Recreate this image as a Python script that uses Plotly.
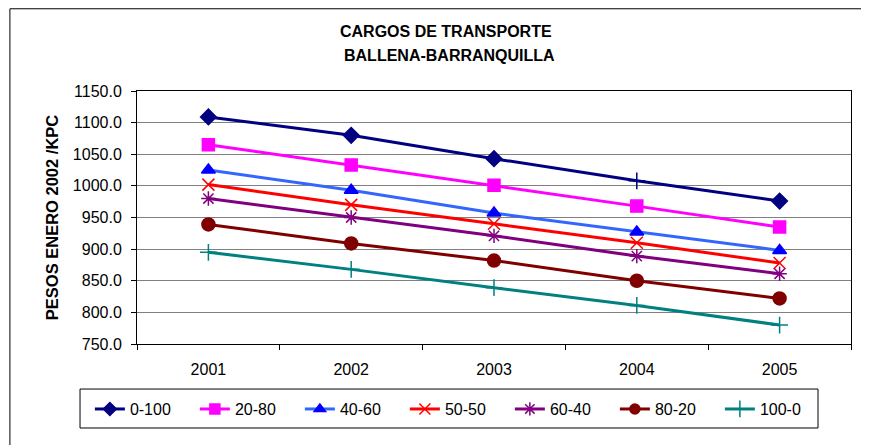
import plotly.graph_objects as go

years = ["2001", "2002", "2003", "2004", "2005"]
s_0_100 = [1109, 1080, 1043, 1008, 976]
s_20_80 = [1065, 1033, 1001, 968, 935]
s_40_60 = [1025, 993, 957, 927, 898]
s_50_50 = [1002, 970, 940, 910, 878]
s_60_40 = [980, 950, 921, 889, 861]
s_80_20 = [939, 909, 882, 850, 822]
s_100_0 = [895, 868, 839, 811, 780]
names = ["0-100", "20-80", "40-60", "50-50", "60-40", "80-20", "100-0"]
y_ticks = [750, 800, 850, 900, 950, 1000, 1050, 1100, 1150]
title_lines = ["CARGOS DE TRANSPORTE", "BALLENA-BARRANQUILLA"]

series = [s_0_100, s_20_80, s_40_60, s_50_50, s_60_40, s_80_20, s_100_0]
line_colors = ["#000080", "#FF00FF", "#3366FF", "#FF0000", "#800080", "#800000", "#008080"]
marker_colors = ["#000080", "#FF00FF", "#0000FF", "#FF0000", "#800080", "#800000", "#008080"]
symbols = [
    ["diamond", "diamond", "diamond", "cross-thin", "diamond"],
    "square", "triangle-up", "x-thin", "asterisk-open", "circle", "cross-thin",
]
legend_symbols = ["diamond", "square", "triangle-up", "x-thin", "asterisk-open", "circle", "cross-thin"]
sizes = [12, 12, 12, 12, 12, 13, 12]
legend_sizes = [10, 10, 10, 11, 11, 10, 12]

FONT = "Arial, Liberation Sans, sans-serif"

fig = go.Figure()
for name, vals, lc, mc, sym, sz in zip(names, series, line_colors, marker_colors, symbols, sizes):
    fig.add_trace(go.Scatter(
        x=years, y=vals, name=name, mode="lines+markers", showlegend=False,
        line=dict(color=lc, width=3),
        marker=dict(symbol=sym, size=sz, color=mc, line=dict(color=mc, width=1.5)),
    ))
# legend entries (smaller markers, as in the original legend)
for name, lc, mc, sym, sz in zip(names, line_colors, marker_colors, legend_symbols, legend_sizes):
    fig.add_trace(go.Scatter(
        x=[None], y=[None], name=name, mode="lines+markers", showlegend=True,
        line=dict(color=lc, width=3),
        marker=dict(symbol=sym, size=sz, color=mc, line=dict(color=mc, width=1.5)),
    ))

fig.update_layout(
    width=861, height=437,
    margin=dict(l=129, r=18, t=83, b=101, autoexpand=False),
    paper_bgcolor="white", plot_bgcolor="white",
    font=dict(family=FONT, size=16, color="black"),
    showlegend=True,
    legend=dict(
        orientation="h", x=-0.066, xanchor="left", y=-0.19, yanchor="top",
        borderwidth=0, bgcolor="rgba(0,0,0,0)",
        entrywidth=60, entrywidthmode="pixels", itemwidth=30,
        font=dict(size=16),
    ),
    xaxis=dict(
        type="category", range=[-0.5, 4.5], tickson="boundaries", ticks="outside", ticklen=5,
        tickcolor="black", linecolor="black", linewidth=1, mirror=True,
        showgrid=False, tickfont=dict(size=16), ticklabelstandoff=11,
    ),
    yaxis=dict(
        range=[750, 1150], tickvals=y_ticks, tickformat=".1f",
        ticks="outside", ticklen=5, tickcolor="black",
        linecolor="black", linewidth=1, mirror=True,
        showgrid=True, gridcolor="#808080", gridwidth=1,
        zeroline=False, tickfont=dict(size=16), ticklabelstandoff=6,
        title=dict(text="<b>PESOS ENERO 2002 /KPC</b>", font=dict(size=16.5), standoff=10),
    ),
    annotations=[
        dict(text="<b>%s</b>" % title_lines[0], xref="paper", yref="paper",
             x=0.433, y=1.237, xanchor="center", yanchor="middle", showarrow=False,
             font=dict(size=16, family=FONT)),
        dict(text="<b>%s</b>" % title_lines[1], xref="paper", yref="paper",
             x=0.437, y=1.142, xanchor="center", yanchor="middle", showarrow=False,
             font=dict(size=16, family=FONT)),
    ],
    shapes=[
        dict(type="rect", xref="paper", yref="paper",
             x0=-0.178, x1=1.2, y0=-0.6, y1=1.325,
             line=dict(color="black", width=1), fillcolor="rgba(0,0,0,0)", layer="below"),
        dict(type="rect", xref="paper", yref="paper",
             x0=-0.0798, x1=0.9538, y0=-0.332, y1=-0.178,
             line=dict(color="black", width=1), fillcolor="rgba(0,0,0,0)", layer="above"),
    ],
)

fig.write_html("out.html")
